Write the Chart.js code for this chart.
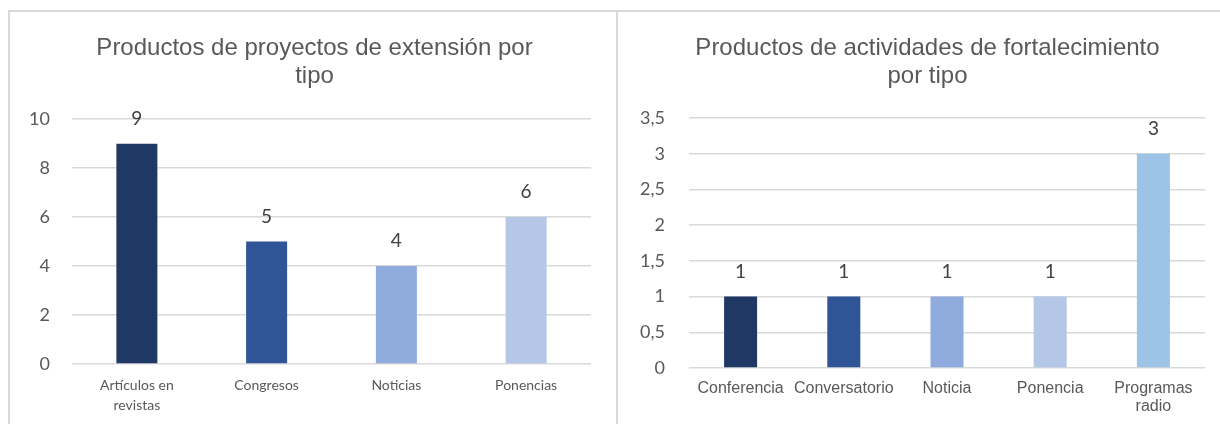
<!DOCTYPE html>
<html>
<head>
<meta charset="utf-8">
<script src="https://cdn.jsdelivr.net/npm/chart.js@4"></script>
<style>
  html, body { margin: 0; padding: 0; background: #fff; }
  body { width: 1220px; height: 424px; position: relative; overflow: hidden; }
  .panel { position: absolute; top: 10px; height: 420px; box-sizing: border-box; border-top: 2px solid #d9d9d9; }
  #leftPanel { left: 8px; width: 610px; border-left: 2px solid #d9d9d9; border-right: 2px solid #d9d9d9; }
  #rightPanel { left: 618px; width: 602px; }
  canvas { display: block; }
</style>
</head>
<body>
<div class="panel" id="leftPanel"><canvas id="leftChart" width="606" height="412"></canvas></div>
<div class="panel" id="rightPanel"><canvas id="rightChart" width="602" height="412"></canvas></div>
<script>
// left chart: productos de proyectos de extensión
const leftCategories = [['Artículos en', 'revistas'], 'Congresos', 'Noticias', 'Ponencias'];
const leftValues = [9, 5, 4, 6];
const leftColors = ['#203864', '#2f5597', '#8faadc', '#b4c7e7'];
const leftTicks = ['0', '2', '4', '6', '8', '10'];

// right chart: productos de actividades de fortalecimiento
const rightCategories = ['Conferencia', 'Conversatorio', 'Noticia', 'Ponencia', ['Programas', 'radio']];
const rightValues = [1, 1, 1, 1, 3];
const rightColors = ['#203864', '#2f5597', '#8faadc', '#b4c7e7', '#9dc3e6'];
const rightTicks = ['0', '0,5', '1', '1,5', '2', '2,5', '3', '3,5'];

// value labels drawn above each bar
const barValues = {
  id: 'barValues',
  afterDatasetsDraw(chart) {
    const ctx = chart.ctx;
    const meta = chart.getDatasetMeta(0);
    ctx.save();
    ctx.font = '19px Lato';
    ctx.fillStyle = '#404040';
    ctx.textAlign = 'center';
    ctx.textBaseline = 'middle';
    meta.data.forEach((bar, i) => {
      ctx.fillText(String(chart.data.datasets[0].data[i]), bar.x, bar.y - 25);
    });
    ctx.restore();
  }
};

// nudge the title sideways, like the Excel chart does
const titleShift = {
  id: 'titleShift',
  afterLayout(chart, args, opts) {
    const t = chart.titleBlock;
    if (!t) return;
    t.left += opts.dx;
    t.right += opts.dx;
  }
};

function makeChart(canvas, cfg) {
  return new Chart(canvas, {
    type: 'bar',
    data: {
      labels: cfg.labels,
      datasets: [{
        data: cfg.values,
        backgroundColor: cfg.colors,
        borderWidth: 0,
        barPercentage: cfg.barPct,
        categoryPercentage: 1,
      }],
    },
    plugins: [barValues, titleShift],
    options: {
      responsive: false,
      animation: false,
      layout: { padding: { left: 0, right: cfg.padRight, top: 0, bottom: 0 } },
      plugins: {
        legend: { display: false },
        tooltip: { enabled: false },
        titleShift: { dx: cfg.titleDx },
        title: {
          display: true,
          text: cfg.title,
          color: '#595959',
          font: { family: 'Liberation Sans', size: 24, weight: 'normal', lineHeight: 1.17 },
          padding: { top: 22, bottom: cfg.titleGap },
        },
      },
      scales: {
        x: {
          grid: { display: false },
          border: { display: false },
          ticks: {
            color: '#595959',
            font: cfg.xFont,
            padding: cfg.xPad,
            maxRotation: 0,
            autoSkip: false,
          },
          afterFit(scale) { scale.height = cfg.xHeight; },
        },
        y: {
          min: 0,
          max: cfg.max,
          grid: { color: '#d9d9d9', lineWidth: 1.5, drawTicks: false },
          border: { display: false },
          ticks: {
            stepSize: cfg.step,
            color: '#595959',
            font: { family: 'Lato', size: 18 },
            padding: cfg.yPad,
            callback: (v, i) => cfg.ticks[i],
          },
          afterFit(scale) { scale.width = cfg.yWidth; },
        },
      },
    },
  });
}

makeChart(document.getElementById('leftChart'), {
  labels: leftCategories,
  values: leftValues,
  colors: leftColors,
  ticks: leftTicks,
  max: 10,
  step: 2,
  barPct: 0.316,
  title: ['Productos de proyectos de extensión por', 'tipo'],
  titleGap: 29,
  titleDx: 14,
  padRight: 25,
  yWidth: 62,
  yPad: 22,
  xHeight: 60,
  xPad: 3,
  xFont: { family: 'Lato', size: 14, lineHeight: 1.45 },
});

makeChart(document.getElementById('rightChart'), {
  labels: rightCategories,
  values: rightValues,
  colors: rightColors,
  ticks: rightTicks,
  max: 3.5,
  step: 0.5,
  barPct: 0.32,
  title: ['Productos de actividades de fortalecimiento', 'por tipo'],
  titleGap: 28,
  titleDx: 16,
  padRight: 15,
  yWidth: 71,
  yPad: 24,
  xHeight: 56,
  xPad: 3,
  xFont: { family: 'Liberation Sans', size: 16, lineHeight: 1.15 },
});
</script>
</body>
</html>
